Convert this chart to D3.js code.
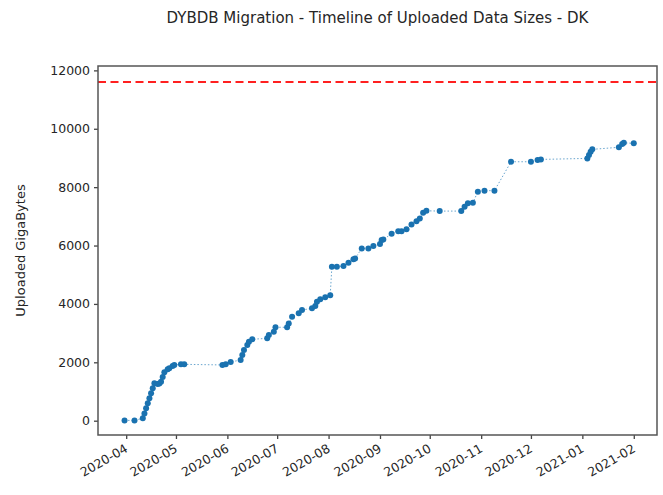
<!DOCTYPE html>
<html>
<head>
<meta charset="utf-8">
<script src="https://cdn.jsdelivr.net/npm/d3@7"></script>
<style>
  body { margin: 0; background: #fff; }
  svg text { font-family: "DejaVu Sans", sans-serif; fill: #262626; }
</style>
</head>
<body>
<svg id="chart" width="663" height="495"></svg>
<script>
// upload dates and cumulative uploaded size (GB)
const uploadDates = [
  '2020-03-31', '2020-04-06', '2020-04-11', '2020-04-12', '2020-04-13', '2020-04-14',
  '2020-04-15', '2020-04-16', '2020-04-17', '2020-04-18', '2020-04-20', '2020-04-21',
  '2020-04-22', '2020-04-23', '2020-04-24', '2020-04-26', '2020-04-27', '2020-04-29',
  '2020-04-30', '2020-05-04', '2020-05-06', '2020-05-29', '2020-05-31', '2020-06-03',
  '2020-06-09', '2020-06-10', '2020-06-11', '2020-06-13', '2020-06-14', '2020-06-16',
  '2020-06-25', '2020-06-26', '2020-06-29', '2020-06-30', '2020-07-07', '2020-07-08',
  '2020-07-10', '2020-07-14', '2020-07-16', '2020-07-22', '2020-07-24', '2020-07-25',
  '2020-07-27', '2020-07-30', '2020-08-02', '2020-08-03', '2020-08-06', '2020-08-10',
  '2020-08-13', '2020-08-16', '2020-08-17', '2020-08-21', '2020-08-25', '2020-08-28',
  '2020-09-01', '2020-09-02', '2020-09-03', '2020-09-08', '2020-09-12', '2020-09-14',
  '2020-09-17', '2020-09-20', '2020-09-23', '2020-09-25', '2020-09-27', '2020-09-29',
  '2020-10-07', '2020-10-20', '2020-10-22', '2020-10-24', '2020-10-27', '2020-10-30',
  '2020-11-03', '2020-11-09', '2020-11-19', '2020-12-01', '2020-12-05', '2020-12-07',
  '2021-01-04', '2021-01-05', '2021-01-06', '2021-01-07', '2021-01-23', '2021-01-25',
  '2021-01-26', '2021-02-01'
];
const uploadedGB = [
  10, 10, 80, 250, 425, 600,
  770, 940, 1110, 1280, 1260, 1270,
  1335, 1500, 1660, 1760, 1800, 1875,
  1910, 1930, 1930, 1910, 1930, 2010,
  2080, 2250, 2420, 2590, 2705, 2790,
  2820, 2935, 3050, 3200, 3200, 3330,
  3560, 3680, 3790, 3850, 3930, 4075,
  4160, 4225, 4300, 5275, 5275, 5300,
  5410, 5530, 5560, 5900, 5900, 5985,
  6050, 6190, 6210, 6400, 6490, 6490,
  6555, 6720, 6830, 6930, 7125, 7190,
  7180, 7180, 7330, 7445, 7465, 7845,
  7880, 7880, 8870, 8870, 8930, 8950,
  8985, 9100, 9215, 9295, 9365, 9475,
  9520, 9500
];
const quotaGB = 11600;
const yTicks = [0, 2000, 4000, 6000, 8000, 10000, 12000];
const xTickLabels = ['2020-04', '2020-05', '2020-06', '2020-07', '2020-08', '2020-09',
  '2020-10', '2020-11', '2020-12', '2021-01', '2021-02'];

const parse = d3.timeParse('%Y-%m-%d');
const points = uploadDates.map((d, i) => ({ date: parse(d), gb: uploadedGB[i] }));

const svg = d3.select('#chart');
const m = { left: 98, right: 657, top: 66, bottom: 435 };

const x = d3.scaleTime()
  .domain([parse('2020-03-15'), parse('2021-02-15')])
  .range([m.left, m.right]);
const y = d3.scaleLinear()
  .domain([-490, 12150])
  .range([m.bottom, m.top]);

// title
svg.append('text')
  .attr('x', (m.left + m.right) / 2)
  .attr('y', 23)
  .attr('text-anchor', 'middle')
  .style('font-size', '15px')
  .text('DYBDB Migration - Timeline of Uploaded Data Sizes - DK');

// axes
const yAxis = svg.append('g')
  .attr('transform', `translate(${m.left},0)`)
  .call(d3.axisLeft(y).tickValues(yTicks).tickSize(4).tickPadding(4).tickFormat(d3.format('d')));
yAxis.select('.domain').remove();
yAxis.selectAll('line').attr('stroke', '#444').attr('stroke-width', 1.3);
yAxis.selectAll('text').style('font-size', '12.5px').attr('fill', '#262626');

const xAxis = svg.append('g')
  .attr('transform', `translate(0,${m.bottom})`)
  .call(d3.axisBottom(x)
    .tickValues(xTickLabels.map((s) => parse(s + '-01')))
    .tickSize(4)
    .tickFormat(d3.timeFormat('%Y-%m')));
xAxis.select('.domain').remove();
xAxis.selectAll('line').attr('stroke', '#444').attr('stroke-width', 1.3);
xAxis.selectAll('text')
  .style('font-size', '12.5px')
  .attr('fill', '#262626')
  .attr('text-anchor', 'end')
  .attr('dy', null)
  .attr('y', 0)
  .attr('transform', 'translate(2,16) rotate(-30)');

// y label
svg.append('text')
  .attr('transform', `translate(25,${(m.top + m.bottom) / 2}) rotate(-90)`)
  .attr('text-anchor', 'middle')
  .style('font-size', '13px')
  .text('Uploaded GigaBytes');

// data line (dotted) and markers
const line = d3.line().x((d) => x(d.date)).y((d) => y(d.gb));
svg.append('path')
  .datum(points)
  .attr('d', line)
  .attr('fill', 'none')
  .attr('stroke', '#6aa6cf')
  .attr('stroke-width', 1)
  .attr('stroke-dasharray', '1.5,2');

svg.append('g')
  .selectAll('circle')
  .data(points)
  .join('circle')
  .attr('cx', (d) => x(d.date))
  .attr('cy', (d) => y(d.gb))
  .attr('r', 3)
  .attr('fill', '#1a72b0');

// quota line
svg.append('line')
  .attr('x1', m.left).attr('x2', m.right)
  .attr('y1', y(quotaGB)).attr('y2', y(quotaGB))
  .attr('stroke', '#ff2020')
  .attr('stroke-width', 2)
  .attr('stroke-dasharray', '8,4.5');

// frame
svg.append('rect')
  .attr('x', m.left).attr('y', m.top)
  .attr('width', m.right - m.left).attr('height', m.bottom - m.top)
  .attr('fill', 'none')
  .attr('stroke', '#555')
  .attr('stroke-width', 1.5);
</script>
</body>
</html>
